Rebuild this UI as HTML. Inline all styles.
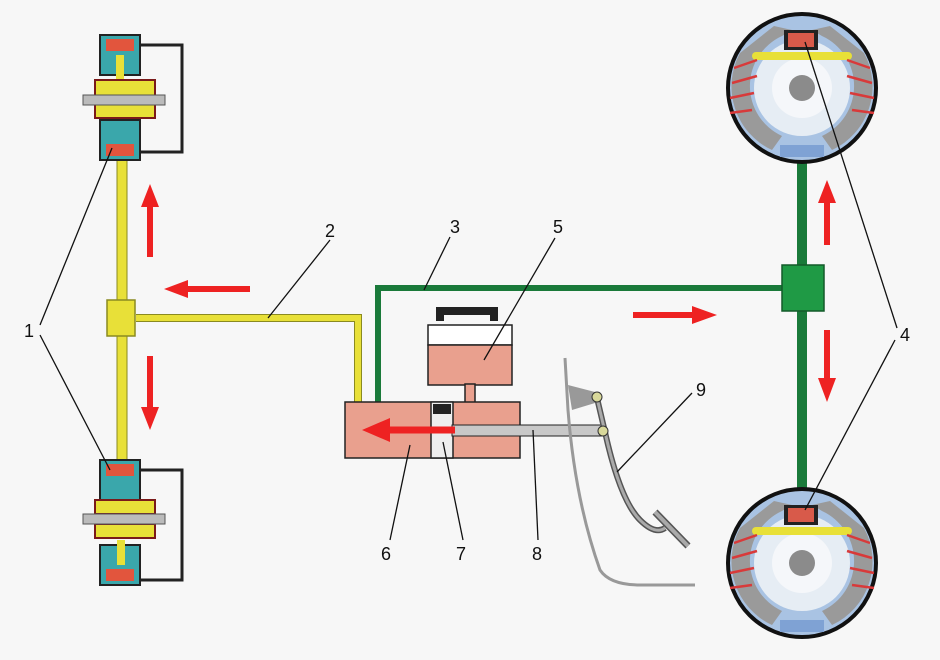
<!DOCTYPE html>
<html><head><meta charset="utf-8"><style>
html,body{margin:0;padding:0;background:#f7f7f7;}
svg{display:block;}
text{font-family:"Liberation Sans",sans-serif;font-size:18px;fill:#111;}
</style></head><body>
<svg width="940" height="660" viewBox="0 0 940 660" xmlns="http://www.w3.org/2000/svg">
<defs>
<g id="drum">
  <circle r="74" fill="#a9c3e3" stroke="#111" stroke-width="4"/>
  <path d="M-62,-35 A70,70 0 0 0 -30,62 L-20,48 A55,55 0 0 1 -20,-52 L-10,-58 L-28,-62 Z" fill="#9a9a9a"/>
  <path d="M62,-35 A70,70 0 0 1 30,62 L20,48 A55,55 0 0 0 20,-52 L10,-58 L28,-62 Z" fill="#9a9a9a"/>
  <circle r="48" fill="#e6edf4"/>
  <circle r="30" fill="#f5f7fa"/>
  <circle r="13" fill="#8b8b8b"/>
  <rect x="-50" y="-36" width="100" height="8" rx="4" fill="#e8e038"/>
  <rect x="-18" y="-58" width="34" height="20" fill="#222"/>
  <rect x="-14" y="-55" width="26" height="14" fill="#d85a4a"/>
  <rect x="-22" y="57" width="44" height="12" fill="#7fa2d4"/>
  <g stroke="#d83a3a" stroke-width="2.5">
    <line x1="-68" y1="-20" x2="-45" y2="-28"/><line x1="-70" y1="-5" x2="-45" y2="-12"/>
    <line x1="-72" y1="10" x2="-48" y2="5"/><line x1="-72" y1="25" x2="-50" y2="22"/>
    <line x1="68" y1="-20" x2="45" y2="-28"/><line x1="70" y1="-5" x2="45" y2="-12"/>
    <line x1="72" y1="10" x2="48" y2="5"/><line x1="72" y1="25" x2="50" y2="22"/>
  </g>
</g>
<g id="cyl">
  <rect x="-20" y="0" width="40" height="40" fill="#3aa7ab" stroke="#222" stroke-width="2"/>
  <rect x="-14" y="4" width="28" height="12" fill="#e2553d"/>
</g>
</defs>

<g fill="none" stroke="#222" stroke-width="3">
  <polyline points="140,45 182,45 182,152 140,152"/>
  <polyline points="140,470 182,470 182,580 140,580"/>
</g>
<rect x="117" y="120" width="10" height="360" fill="#e8e038" stroke="#8a8a20" stroke-width="1"/>
<use href="#cyl" x="120" y="35"/>
<rect x="116" y="55" width="8" height="30" fill="#e8e038"/>
<rect x="95" y="80" width="60" height="16" fill="#e8e038" stroke="#7a1a1a" stroke-width="2"/>
<rect x="95" y="104" width="60" height="14" fill="#e8e038" stroke="#7a1a1a" stroke-width="2"/>
<rect x="83" y="95" width="82" height="10" fill="#bbb" stroke="#555" stroke-width="1"/>
<g transform="translate(120,160) scale(1,-1)"><use href="#cyl"/></g>
<use href="#cyl" x="120" y="460"/>
<rect x="95" y="500" width="60" height="14" fill="#e8e038" stroke="#7a1a1a" stroke-width="2"/>
<rect x="95" y="524" width="60" height="14" fill="#e8e038" stroke="#7a1a1a" stroke-width="2"/>
<rect x="83" y="514" width="82" height="10" fill="#bbb" stroke="#555" stroke-width="1"/>
<g transform="translate(120,585) scale(1,-1)"><use href="#cyl"/></g>
<rect x="117" y="540" width="8" height="25" fill="#e8e038"/>

<polyline points="136,318 358,318 358,405" fill="none" stroke="#8a8a20" stroke-width="8"/>
<polyline points="136,318 358,318 358,405" fill="none" stroke="#e8e038" stroke-width="6"/>
<rect x="107" y="300" width="28" height="36" fill="#e8e038" stroke="#8a8a20" stroke-width="1.5"/>

<polyline points="378,405 378,288 785,288" fill="none" stroke="#1a7a3a" stroke-width="6"/>
<line x1="802" y1="155" x2="802" y2="495" stroke="#1a7a3a" stroke-width="10"/>
<rect x="782" y="265" width="42" height="46" fill="#1f9a45" stroke="#145a2a" stroke-width="1.5"/>

<use href="#drum" x="802" y="88"/>
<use href="#drum" x="802" y="563"/>

<rect x="436" y="307" width="62" height="14" fill="#222"/>
<rect x="444" y="315" width="46" height="10" fill="#f7f7f7"/>
<rect x="428" y="325" width="84" height="20" fill="#fff" stroke="#222" stroke-width="1.5"/>
<rect x="428" y="345" width="84" height="40" fill="#e9a08e" stroke="#222" stroke-width="1.5"/>
<rect x="465" y="384" width="10" height="20" fill="#e9a08e" stroke="#222" stroke-width="1.5"/>
<rect x="345" y="402" width="175" height="56" fill="#e9a08e" stroke="#222" stroke-width="1.5"/>
<rect x="431" y="402" width="22" height="56" fill="#eee" stroke="#222" stroke-width="1.5"/>
<rect x="433" y="404" width="18" height="10" fill="#222"/>
<rect x="452" y="425" width="153" height="11" fill="#c8c8c8" stroke="#222" stroke-width="1"/>
<line x1="455" y1="430" x2="385" y2="430" stroke="#e22" stroke-width="7"/>
<polygon points="362,430 390,418 390,442" fill="#e22"/>

<path d="M565,358 L568,410 Q575,500 600,570 Q610,585 640,585 L695,585" fill="none" stroke="#999" stroke-width="3"/>
<polygon points="568,385 595,392 595,403 572,410" fill="#999"/>
<path d="M597,398 L605,432 Q620,500 640,520 Q655,535 665,528" fill="none" stroke="#555" stroke-width="6"/>
<path d="M597,398 L605,432 Q620,500 640,520 Q655,535 665,528" fill="none" stroke="#aaa" stroke-width="3"/>
<line x1="655" y1="512" x2="688" y2="546" stroke="#555" stroke-width="7"/>
<line x1="655" y1="512" x2="688" y2="546" stroke="#aaa" stroke-width="4"/>
<circle cx="597" cy="397" r="5" fill="#d8d89a" stroke="#333"/>
<circle cx="603" cy="431" r="5" fill="#d8d89a" stroke="#333"/>

<g fill="#e22" stroke="#e22">
  <line x1="150" y1="257" x2="150" y2="205" stroke-width="6"/><polygon points="150,184 141,207 159,207" stroke="none"/>
  <line x1="250" y1="289" x2="185" y2="289" stroke-width="6"/><polygon points="164,289 188,280 188,298" stroke="none"/>
  <line x1="150" y1="356" x2="150" y2="410" stroke-width="6"/><polygon points="150,430 141,407 159,407" stroke="none"/>
  <line x1="633" y1="315" x2="695" y2="315" stroke-width="6"/><polygon points="717,315 692,306 692,324" stroke="none"/>
  <line x1="827" y1="245" x2="827" y2="200" stroke-width="6"/><polygon points="827,180 818,203 836,203" stroke="none"/>
  <line x1="827" y1="330" x2="827" y2="380" stroke-width="6"/><polygon points="827,402 818,378 836,378" stroke="none"/>
</g>

<g stroke="#111" stroke-width="1.3" fill="none">
  <line x1="40" y1="325" x2="112" y2="148"/><line x1="40" y1="335" x2="110" y2="470"/>
  <line x1="897" y1="328" x2="805" y2="42"/><line x1="895" y1="340" x2="805" y2="510"/>
  <line x1="330" y1="240" x2="268" y2="318"/>
  <line x1="450" y1="237" x2="424" y2="290"/>
  <line x1="555" y1="238" x2="484" y2="360"/>
  <line x1="390" y1="540" x2="410" y2="445"/>
  <line x1="463" y1="540" x2="443" y2="442"/>
  <line x1="538" y1="540" x2="533" y2="430"/>
  <line x1="692" y1="393" x2="617" y2="472"/>
</g>

<text x="24" y="337">1</text>
<text x="325" y="237">2</text>
<text x="450" y="233">3</text>
<text x="900" y="341">4</text>
<text x="553" y="233">5</text>
<text x="381" y="560">6</text>
<text x="456" y="560">7</text>
<text x="532" y="560">8</text>
<text x="696" y="396">9</text>
</svg>
</body></html>
